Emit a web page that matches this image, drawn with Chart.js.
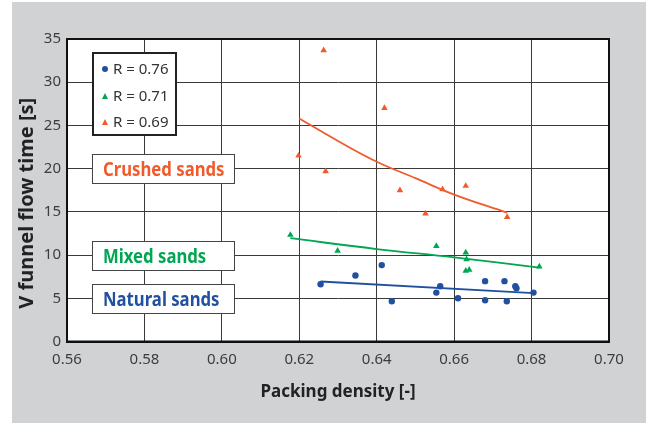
<!DOCTYPE html>
<html>
<head>
<meta charset="utf-8">
<script src="https://cdn.jsdelivr.net/npm/chart.js@4"></script>
<style>
  html, body { margin: 0; padding: 0; background: #fff; }
  #wrap { position: absolute; left: 12px; top: 2px; width: 634px; height: 421px; background: #d1d2d4; }
  .box { position: absolute; background: #fff; box-sizing: border-box; }
  #legend { left: 92px; top: 52px; width: 85px; height: 84px; border: 2px solid #222; }
  .row { position: absolute; left: 8px; font: 15px "Noto Sans", sans-serif; color: #333; line-height: 18px; white-space: nowrap; }
  .dot { display: inline-block; width: 6px; height: 6px; border-radius: 50%; margin-right: 5px; vertical-align: 2px; }
  .tri { display: inline-block; width: 0; height: 0; border-left: 3px solid transparent; border-right: 3px solid transparent; margin-right: 5px; vertical-align: 2px; }
  .lab { left: 92px; width: 143px; height: 30px; border: 1px solid #444; padding-left: 10px;
         font: bold 19px "Noto Sans", sans-serif; line-height: 28px; white-space: nowrap; }
  .lab span { display: inline-block; transform: scaleX(0.88); transform-origin: left center; }
</style>
</head>
<body>
<div id="wrap"><canvas id="c"></canvas></div>
<div id="legend" class="box"></div>
<div class="box lab" id="lab0" style="top:154px"><span></span></div>
<div class="box lab" id="lab1" style="top:241px"><span></span></div>
<div class="box lab" id="lab2" style="top:284px"><span></span></div>
<script>
const seriesNames = ["Natural sands", "Mixed sands", "Crushed sands"];
const legendLabels = ["R = 0.76", "R = 0.71", "R = 0.69"];
const colors = ["#2150a0", "#00a651", "#f15a2b"];

const naturalX = [0.6255, 0.6345, 0.6413, 0.6439, 0.6554, 0.6564, 0.6610, 0.6680, 0.6680, 0.6730, 0.6736, 0.6758, 0.6761, 0.6805];
const naturalY = [6.63, 7.64, 8.84, 4.65, 5.66, 6.40, 5.00, 6.98, 4.77, 6.98, 4.65, 6.40, 6.16, 5.66];
const mixedX = [0.6177, 0.6299, 0.6554, 0.6630, 0.6632, 0.6630, 0.6639, 0.6820];
const mixedY = [12.33, 10.50, 11.05, 10.30, 9.50, 8.17, 8.30, 8.68];
const crushedX = [0.6198, 0.6263, 0.6268, 0.6420, 0.6460, 0.6526, 0.6570, 0.6630, 0.6737];
const crushedY = [21.5, 33.7, 19.7, 27.0, 17.5, 14.8, 17.6, 18.0, 14.4];

// trend lines
const naturalFitX = [0.6255, 0.6805];
const naturalFitY = [6.94, 5.60];
const mixedFitX = [0.6177, 0.640, 0.660, 0.682];
const mixedFitY = [11.95, 10.70, 9.73, 8.55];
const crushedFitX = [0.620, 0.630, 0.640, 0.650, 0.660, 0.6737];
const crushedFitY = [25.8, 23.2, 20.8, 18.9, 17.0, 14.9];

const xTicks = [0.56, 0.58, 0.60, 0.62, 0.64, 0.66, 0.68, 0.70];
const yTicks = [0, 5, 10, 15, 20, 25, 30, 35];

const pts = (xs, ys) => xs.map((x, i) => ({ x: x, y: ys[i] }));

// html legend + category labels
const legend = document.getElementById("legend");
legendLabels.forEach((t, i) => {
    const r = document.createElement("div");
    r.className = "row";
    r.style.top = (5 + i * 26.7) + "px";
    const m = document.createElement("span");
    if (i === 0) { m.className = "dot"; m.style.background = colors[i]; }
    else { m.className = "tri"; m.style.borderBottom = "6px solid " + colors[i]; }
    r.appendChild(m);
    r.appendChild(document.createTextNode(t));
    legend.appendChild(r);
});
[2, 1, 0].forEach((s, i) => {
    const el = document.getElementById("lab" + i);
    el.firstChild.textContent = seriesNames[s];
    el.style.color = colors[s];
});

const frame = {
    id: "frame",
    beforeDraw(chart) {
        const a = chart.chartArea, ctx = chart.ctx;
        ctx.save();
        ctx.fillStyle = "#fff";
        ctx.fillRect(a.left, a.top, a.right - a.left, a.bottom - a.top);
        ctx.restore();
    },
    beforeDatasetsDraw(chart) {
        const a = chart.chartArea, ctx = chart.ctx;
        ctx.save();
        ctx.strokeStyle = "#111";
        ctx.lineWidth = 2;
        ctx.strokeRect(a.left, a.top, a.right - a.left, a.bottom - a.top);
        ctx.restore();
    }
};

const scatter = (xs, ys, i, style, r) => ({
    type: "scatter", data: pts(xs, ys), pointStyle: style, pointRadius: r,
    backgroundColor: colors[i], borderColor: colors[i], borderWidth: 0
});
const fit = (xs, ys, i, tension) => ({
    type: "line", data: pts(xs, ys), borderColor: colors[i], borderWidth: 1.8,
    pointRadius: 0, tension: tension, fill: false
});

new Chart(document.getElementById("c"), {
    data: {
        datasets: [
            fit(naturalFitX, naturalFitY, 0, 0),
            fit(mixedFitX, mixedFitY, 1, 0.4),
            fit(crushedFitX, crushedFitY, 2, 0.4),
            scatter(naturalX, naturalY, 0, "circle", 3.2),
            scatter(mixedX, mixedY, 1, "triangle", 3.8),
            scatter(crushedX, crushedY, 2, "triangle", 3.8)
        ]
    },
    options: {
        responsive: true,
        maintainAspectRatio: false,
        animation: false,
        layout: { padding: { top: 37, right: 37, left: 0, bottom: 0 } },
        plugins: { legend: { display: false }, tooltip: { enabled: false } },
        scales: {
            x: {
                type: "linear", min: 0.56, max: 0.70,
                afterBuildTicks: s => { s.ticks = xTicks.map(v => ({ value: v })); },
                afterFit: s => { s.height = 81.5; },
                grid: { color: "#3a3a3a", lineWidth: 1, drawTicks: false },
                border: { color: "#111", width: 2 },
                ticks: { padding: 9, color: "#3d3d3d", font: { family: "Noto Sans", size: 15 },
                         callback: v => Number(v).toFixed(2) },
                title: { display: true, text: "Packing density [-]", color: "#222",
                         font: { family: "Noto Sans", size: 17, weight: "bold" },
                         padding: { top: 0, bottom: 21 } }
            },
            y: {
                type: "linear", min: 0, max: 35,
                afterBuildTicks: s => { s.ticks = yTicks.map(v => ({ value: v })); },
                afterFit: s => { s.width = 55; },
                grid: { color: "#3a3a3a", lineWidth: 1, drawTicks: false },
                border: { color: "#111", width: 2 },
                ticks: { padding: 6, color: "#3d3d3d", font: { family: "Noto Sans", size: 15 } },
                title: { display: true, text: "V funnel flow time [s]     ", color: "#222",
                         font: { family: "Noto Sans", size: 20, weight: "bold" },
                         padding: { top: 3, bottom: 0 } }
            }
        }
    },
    plugins: [frame]
});
</script>
</body>
</html>
